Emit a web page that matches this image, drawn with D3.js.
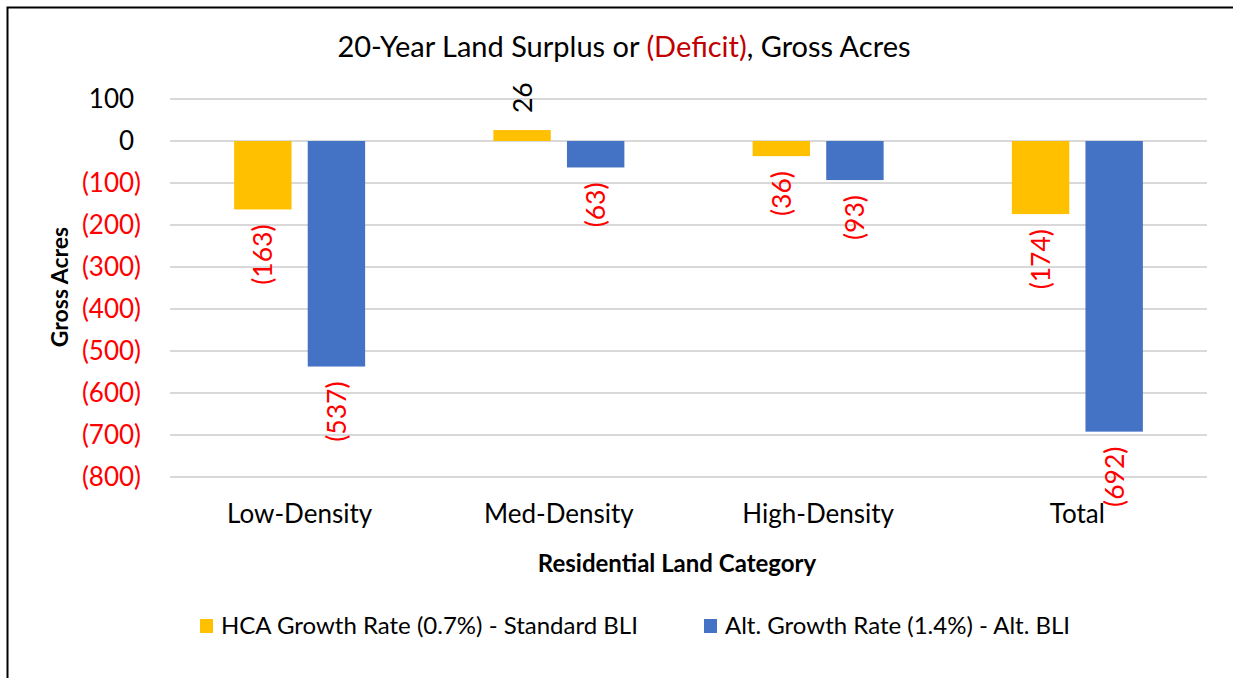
<!DOCTYPE html>
<html><head><meta charset="utf-8">
<script src="https://cdn.jsdelivr.net/npm/d3@7"></script>
<style>body{margin:0;background:#fff;} svg{display:block;font-family:Lato, "Noto Sans", sans-serif;}</style>
</head><body>
<svg id="c" width="1233" height="678"></svg>
<script>
const categories = ["Low-Density","Med-Density","High-Density","Total"];
const seriesNames = ["HCA Growth Rate (0.7%) - Standard BLI","Alt. Growth Rate (1.4%) - Alt. BLI"];
const hcaValues = [-163, 26, -36, -174];
const altValues = [-537, -63, -93, -692];
const yTicks = [100, 0, -100, -200, -300, -400, -500, -600, -700, -800];
const colors = ["#FFC000", "#4472C4"];

const svg = d3.select("#c");
const W = 1233, H = 678;
svg.append("rect").attr("x",7.5).attr("y",7.5).attr("width",W+10).attr("height",H+10)
  .attr("fill","#fff").attr("stroke","#000").attr("stroke-width",2);

const x0 = 170, x1 = 1207;
const y = d3.scaleLinear().domain([100,-800]).range([99,477]);
const x = d3.scaleBand().domain(categories).range([x0,x1]);
const inner = d3.scaleBand().domain([0,1]).range([0,131]).paddingInner(0.22);

const fmt = v => v < 0 ? "(" + d3.format(",")(-v) + ")" : d3.format(",")(v);

// gridlines
svg.append("g").selectAll("line").data(yTicks).join("line")
  .attr("x1",x0).attr("x2",x1).attr("y1",d=>y(d)).attr("y2",d=>y(d))
  .attr("stroke","#D9D9D9").attr("stroke-width",2);

// y tick labels
const tl = svg.append("g").selectAll("text").data(yTicks).join("text")
  .attr("x",141).attr("y",d=>y(d)).attr("dy","0.36em").attr("text-anchor","end")
  .attr("font-size",26).attr("fill",d=>d<0?"#FF0000":"#000");
tl.append("tspan").text(d=>fmt(d));
tl.filter(d=>d>=0).append("tspan").attr("fill-opacity",0).text(")");

// bars
const data = categories.map((c,i)=>({c, vals:[hcaValues[i], altValues[i]]}));
const g = svg.append("g");
data.forEach(d=>{
  const gx = x(d.c) + (x.bandwidth()-131)/2;
  d.vals.forEach((v,j)=>{
    const bx = gx + inner(j), bw = inner.bandwidth();
    g.append("rect").attr("x",bx).attr("width",bw)
      .attr("y",Math.min(y(v),y(0))).attr("height",Math.abs(y(v)-y(0)))
      .attr("fill",colors[j]);
    const cx = bx + bw/2 + 9.5;
    const ly = v < 0 ? y(v) + 15 : y(v) - 17;
    g.append("text").attr("transform",`translate(${cx},${ly}) rotate(-90)`)
      .attr("text-anchor", v<0 ? "end" : "start")
      .attr("font-size",26.5).attr("fill", v<0?"#FF0000":"#000").text(fmt(v));
  });
});

// category labels
svg.append("g").selectAll("text").data(categories).join("text")
  .attr("x",d=>x(d)+x.bandwidth()/2).attr("y",523).attr("text-anchor","middle")
  .attr("font-size",26).attr("fill","#000").text(d=>d);

// title
const t = svg.append("text").attr("x",624).attr("y",57).attr("text-anchor","middle").attr("font-size",29).attr("fill","#000");
t.append("tspan").text("20-Year Land Surplus or ");
t.append("tspan").attr("fill","#C00000").text("(Deficit)");
t.append("tspan").text(", Gross Acres");

// axis titles
svg.append("text").attr("x",677).attr("y",572).attr("text-anchor","middle")
  .attr("font-size",24).attr("font-weight","bold").text("Residential Land Category");
svg.append("text").attr("transform","translate(68,287) rotate(-90)").attr("text-anchor","middle")
  .attr("font-size",23).attr("font-weight","bold").text("Gross Acres");

// legend
const legX = [200, 704];
seriesNames.forEach((n,i)=>{
  svg.append("rect").attr("x",legX[i]).attr("y",619).attr("width",13).attr("height",14).attr("fill",colors[i]);
  svg.append("text").attr("x",legX[i]+21).attr("y",634).attr("font-size",24).attr("fill","#000").text(n);
});
</script>
</body></html>
